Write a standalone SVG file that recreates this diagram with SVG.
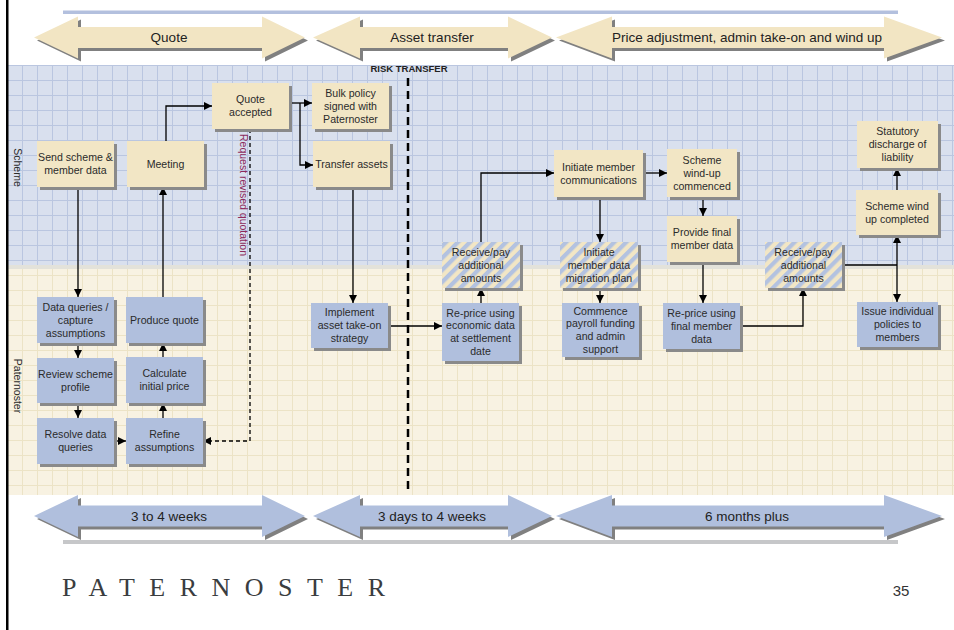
<svg xmlns="http://www.w3.org/2000/svg" width="954" height="630" viewBox="0 0 954 630">
<defs>
<style>
.tan{fill:#f2e6c5}
.blu{fill:#b0bfdd}
.hat{fill:url(#hatch)}
.sh{fill:#8a8a8a}
.t{font-family:"Liberation Sans",Arial,sans-serif;font-size:10.6px;fill:#2b2b2b;text-anchor:middle}
.big{font-family:"Liberation Sans",Arial,sans-serif;font-size:13.5px;fill:#222;text-anchor:middle}
.c{stroke:#000;stroke-width:1.3;fill:none;marker-end:url(#ah)}
.cn{stroke:#000;stroke-width:1.3;fill:none}
.bsh{fill:#808080}
.atan{fill:#f2e5c3}
.ablu{fill:#b0bfdd}
</style>
<marker id="ah" markerUnits="userSpaceOnUse" markerWidth="9" markerHeight="9" refX="8" refY="4" orient="auto">
<path d="M0,0 L8,4 L0,8 z" fill="#000"/>
</marker>
<pattern id="gb" width="15" height="15" patternUnits="userSpaceOnUse" x="7" y="5">
<rect width="15" height="15" fill="#d9e0ee"/>
<path d="M0,0.5 H15 M0.5,0 V15" stroke="#bac6e0" stroke-width="1"/>
</pattern>
<pattern id="gc" width="15" height="15" patternUnits="userSpaceOnUse" x="7" y="5">
<rect width="15" height="15" fill="#f8f2e2"/>
<path d="M0,0.5 H15 M0.5,0 V15" stroke="#ece3c6" stroke-width="1"/>
</pattern>
<pattern id="hatch" width="8.5" height="8.5" patternUnits="userSpaceOnUse" patternTransform="rotate(45)">
<rect width="8.5" height="8.5" fill="#f2e6c5"/>
<rect width="4.2" height="8.5" fill="#b3c2e0"/>
</pattern>
<polygon id="arQuote" points="34,0 78,-21 78,-10.5 262,-10.5 262,-21 305,0 262,21 262,10.5 78,10.5 78,21"/>
<polygon id="arAsset" points="313,0 360,-21 360,-10.5 508,-10.5 508,-21 552,0 508,21 508,10.5 360,10.5 360,21"/>
<polygon id="arPrice" points="556,0 612,-21 612,-10.5 884,-10.5 884,-21 942,0 884,21 884,10.5 612,10.5 612,21"/>
</defs>

<rect width="954" height="630" fill="#fff"/>

<g id="background">
<rect x="8" y="65" width="946" height="200" fill="url(#gb)"/>
<rect x="8" y="265" width="946" height="4" fill="#e3e2da"/>
<rect x="8" y="269" width="946" height="226" fill="url(#gc)"/>
<rect x="6" y="0" width="2.5" height="630" fill="#000"/>
<rect x="63" y="10.5" width="835" height="3.5" fill="#b3c0de"/>
<rect x="63" y="540" width="835" height="4" fill="#c6c7c9"/>
</g>

<g id="phases-top">
<use href="#arQuote" class="bsh" transform="translate(3,40.5)"/>
<use href="#arAsset" class="bsh" transform="translate(3,40.5)"/>
<use href="#arPrice" class="bsh" transform="translate(3,40.5)"/>
<use href="#arQuote" class="atan" transform="translate(0,37.5)"/>
<use href="#arAsset" class="atan" transform="translate(0,37.5)"/>
<use href="#arPrice" class="atan" transform="translate(0,37.5)"/>
<text class="big" x="169" y="42.2">Quote</text>
<text class="big" x="432" y="42.2">Asset transfer</text>
<text class="big" x="747" y="42.2">Price adjustment, admin take-on and wind up</text>
</g>

<g id="phases-bottom">
<use href="#arQuote" class="bsh" transform="translate(3,519)"/>
<use href="#arAsset" class="bsh" transform="translate(3,519)"/>
<use href="#arPrice" class="bsh" transform="translate(3,519)"/>
<use href="#arQuote" class="ablu" transform="translate(0,516)"/>
<use href="#arAsset" class="ablu" transform="translate(0,516)"/>
<use href="#arPrice" class="ablu" transform="translate(0,516)"/>
<text class="big" x="169" y="520.7">3 to 4 weeks</text>
<text class="big" x="432" y="520.7">3 days to 4 weeks</text>
<text class="big" x="747" y="520.7">6 months plus</text>
</g>

<g id="lane-labels">
<text class="t" transform="translate(13.5,167.5) rotate(90)" style="font-size:10.5px">Scheme</text>
<text class="t" transform="translate(13.5,386) rotate(90)" style="font-size:10.5px">Paternoster</text>
</g>

<g id="risk-transfer">
<text x="409" y="71.5" style="font-family:'Liberation Sans',Arial,sans-serif;font-size:9.5px;font-weight:bold;fill:#222;text-anchor:middle">RISK TRANSFER</text>
<line x1="408" y1="78" x2="408" y2="492" stroke="#000" stroke-width="2.5" stroke-dasharray="8,5"/>
</g>

<g id="connectors">
<path class="c" d="M78,187 V297"/>
<path class="c" d="M78,343 V358"/>
<path class="c" d="M78,403 V418"/>
<path class="c" d="M114,441 H126"/>
<path class="c" d="M163,418 V403"/>
<path class="c" d="M163,357 V343"/>
<path class="c" d="M163,297 V187"/>
<path class="c" d="M166,141 V106 H212"/>
<path class="c" d="M289,103 H312"/>
<path class="c" d="M300,103 V165 H313"/>
<path class="c" d="M250,129 V441 H203" stroke-dasharray="4,3"/>
<path class="c" d="M353,187 V303"/>
<path class="c" d="M388,326 H442"/>
<path class="c" d="M481,303 V288"/>
<path class="c" d="M481,242 V173 H554"/>
<path class="c" d="M643,173 H667"/>
<path class="c" d="M600,198 V242"/>
<path class="c" d="M600,288 V303"/>
<path class="c" d="M703,197 V216"/>
<path class="c" d="M703,262 V303"/>
<path class="c" d="M740,326 H803 V288"/>
<path class="cn" d="M842,265 H897"/>
<path class="c" d="M897,265 V235"/>
<path class="c" d="M897,265 V302"/>
<path class="c" d="M897,190 V168"/>
<text transform="translate(239.5,195) rotate(90)" style="font-family:'Liberation Sans',Arial,sans-serif;font-size:10.5px;fill:#8c2a5c;text-anchor:middle">Request revised quotation</text>
</g>

<g id="n-send"><rect class="sh" x="40" y="144" width="77" height="46"/><rect class="tan" x="37" y="141" width="77" height="46"/><text class="t" x="75.5" y="161.3">Send scheme &amp;</text><text class="t" x="75.5" y="174.1">member data</text></g>
<g id="n-meeting"><rect class="sh" x="130" y="144" width="77" height="46"/><rect class="tan" x="127" y="141" width="77" height="46"/><text class="t" x="165.5" y="167.7">Meeting</text></g>
<g id="n-quote-accepted"><rect class="sh" x="215" y="86" width="77" height="46"/><rect class="tan" x="212" y="83" width="77" height="46"/><text class="t" x="250.5" y="103.3">Quote</text><text class="t" x="250.5" y="116.1">accepted</text></g>
<g id="n-bulk"><rect class="sh" x="315" y="86" width="77" height="46"/><rect class="tan" x="312" y="83" width="77" height="46"/><text class="t" x="350.5" y="96.9">Bulk policy</text><text class="t" x="350.5" y="109.7">signed with</text><text class="t" x="350.5" y="122.5">Paternoster</text></g>
<g id="n-transfer"><rect class="sh" x="316" y="144" width="77" height="46"/><rect class="tan" x="313" y="141" width="77" height="46"/><text class="t" x="351.5" y="167.7">Transfer assets</text></g>
<g id="n-initcomm"><rect class="sh" x="557" y="153" width="89" height="47"/><rect class="tan" x="554" y="150" width="89" height="47"/><text class="t" x="598.5" y="170.8">Initiate member</text><text class="t" x="598.5" y="183.6">communications</text></g>
<g id="n-windup-commenced"><rect class="sh" x="670" y="152" width="70" height="48"/><rect class="tan" x="667" y="149" width="70" height="48"/><text class="t" x="702" y="163.9">Scheme</text><text class="t" x="702" y="176.7">wind-up</text><text class="t" x="702" y="189.5">commenced</text></g>
<g id="n-provide-final"><rect class="sh" x="670" y="219" width="70" height="46"/><rect class="tan" x="667" y="216" width="70" height="46"/><text class="t" x="702" y="236.3">Provide final</text><text class="t" x="702" y="249.1">member data</text></g>
<g id="n-statutory"><rect class="sh" x="860" y="124" width="81" height="47"/><rect class="tan" x="857" y="121" width="81" height="47"/><text class="t" x="897.5" y="135.4">Statutory</text><text class="t" x="897.5" y="148.2">discharge of</text><text class="t" x="897.5" y="161">liability</text></g>
<g id="n-windup-completed"><rect class="sh" x="859" y="193" width="82" height="45"/><rect class="tan" x="856" y="190" width="82" height="45"/><text class="t" x="897" y="209.8">Scheme wind</text><text class="t" x="897" y="222.6">up completed</text></g>

<g id="n-receive1"><rect class="sh" x="445" y="245" width="78" height="46"/><rect class="hat" x="442" y="242" width="78" height="46"/><text class="t" x="481" y="255.9">Receive/pay</text><text class="t" x="481" y="268.7">additional</text><text class="t" x="481" y="281.5">amounts</text></g>
<g id="n-migration"><rect class="sh" x="563" y="245" width="78" height="46"/><rect class="hat" x="560" y="242" width="78" height="46"/><text class="t" x="599" y="255.9">Initiate</text><text class="t" x="599" y="268.7">member data</text><text class="t" x="599" y="281.5">migration plan</text></g>
<g id="n-receive2"><rect class="sh" x="768" y="245" width="77" height="46"/><rect class="hat" x="765" y="242" width="77" height="46"/><text class="t" x="803.5" y="255.9">Receive/pay</text><text class="t" x="803.5" y="268.7">additional</text><text class="t" x="803.5" y="281.5">amounts</text></g>

<g id="n-dataq"><rect class="sh" x="40" y="300" width="77" height="46"/><rect class="blu" x="37" y="297" width="77" height="46"/><text class="t" x="75.5" y="310.9">Data queries /</text><text class="t" x="75.5" y="323.7">capture</text><text class="t" x="75.5" y="336.5">assumptions</text></g>
<g id="n-review"><rect class="sh" x="40" y="361" width="77" height="45"/><rect class="blu" x="37" y="358" width="77" height="45"/><text class="t" x="75.5" y="377.8">Review scheme</text><text class="t" x="75.5" y="390.6">profile</text></g>
<g id="n-resolve"><rect class="sh" x="40" y="421" width="77" height="46"/><rect class="blu" x="37" y="418" width="77" height="46"/><text class="t" x="75.5" y="438.3">Resolve data</text><text class="t" x="75.5" y="451.1">queries</text></g>
<g id="n-produce"><rect class="sh" x="129" y="300" width="77" height="46"/><rect class="blu" x="126" y="297" width="77" height="46"/><text class="t" x="164.5" y="323.7">Produce quote</text></g>
<g id="n-calc"><rect class="sh" x="129" y="360" width="77" height="46"/><rect class="blu" x="126" y="357" width="77" height="46"/><text class="t" x="164.5" y="377.3">Calculate</text><text class="t" x="164.5" y="390.1">initial price</text></g>
<g id="n-refine"><rect class="sh" x="129" y="421" width="77" height="46"/><rect class="blu" x="126" y="418" width="77" height="46"/><text class="t" x="164.5" y="438.3">Refine</text><text class="t" x="164.5" y="451.1">assumptions</text></g>
<g id="n-implement"><rect class="sh" x="314" y="306" width="77" height="45"/><rect class="blu" x="311" y="303" width="77" height="45"/><text class="t" x="349.5" y="316.4">Implement</text><text class="t" x="349.5" y="329.2">asset take-on</text><text class="t" x="349.5" y="342">strategy</text></g>
<g id="n-reprice-econ"><rect class="sh" x="445" y="306" width="77" height="58"/><rect class="blu" x="442" y="303" width="77" height="58"/><text class="t" x="480.5" y="316.5">Re-price using</text><text class="t" x="480.5" y="329.3">economic data</text><text class="t" x="480.5" y="342.1">at settlement</text><text class="t" x="480.5" y="354.9">date</text></g>
<g id="n-commence"><rect class="sh" x="565" y="306" width="77" height="54"/><rect class="blu" x="562" y="303" width="77" height="54"/><text class="t" x="600.5" y="314.5">Commence</text><text class="t" x="600.5" y="327.3">payroll funding</text><text class="t" x="600.5" y="340.1">and admin</text><text class="t" x="600.5" y="352.9">support</text></g>
<g id="n-reprice-final"><rect class="sh" x="666" y="306" width="77" height="46"/><rect class="blu" x="663" y="303" width="77" height="46"/><text class="t" x="701.5" y="316.9">Re-price using</text><text class="t" x="701.5" y="329.7">final member</text><text class="t" x="701.5" y="342.5">data</text></g>
<g id="n-issue"><rect class="sh" x="860" y="305" width="81" height="45"/><rect class="blu" x="857" y="302" width="81" height="45"/><text class="t" x="897.5" y="315.4">Issue individual</text><text class="t" x="897.5" y="328.2">policies to</text><text class="t" x="897.5" y="341">members</text></g>

<g id="footer">
<text x="62" y="596" textLength="323" lengthAdjust="spacing" style="font-family:'Liberation Serif','Times New Roman',serif;font-size:26px;fill:#3a3d40">PATERNOSTER</text>
<text x="901" y="596" style="font-family:'Liberation Sans',Arial,sans-serif;font-size:15px;fill:#333;text-anchor:middle">35</text>
</g>
</svg>
